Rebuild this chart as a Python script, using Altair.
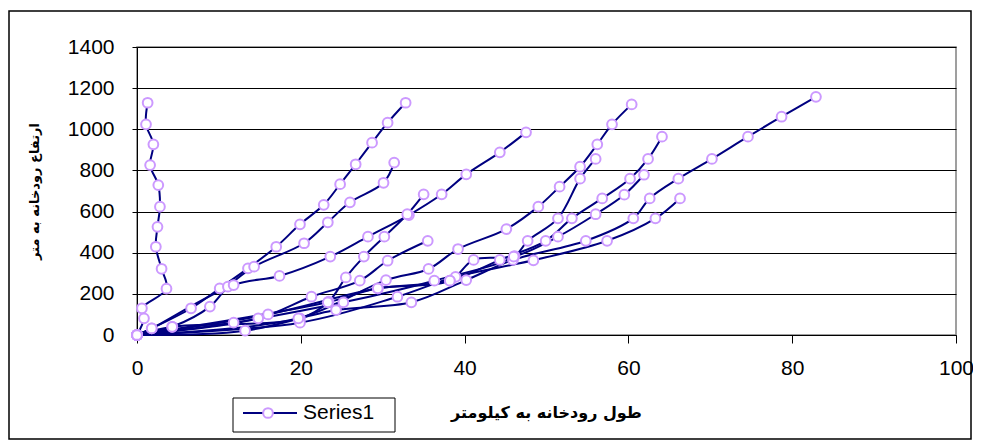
import altair as alt
import pandas as pd

# River longitudinal profiles: distance (km) and elevation (m)
km_1 = [0, 0.85, 0.6, 3.6, 3.0, 2.3, 2.5, 2.8, 2.6, 1.6, 2.0, 1.1, 1.3]
m_1 = [0, 81, 130, 225, 322, 429, 526, 624, 729, 826, 927, 1024, 1129]
km_2 = [0, 1.8, 6.6, 10.1, 13.55, 17.0, 19.9, 22.8, 24.8, 26.7, 28.7, 30.6, 32.8]
m_2 = [0, 32, 130, 227, 324, 429, 538, 633, 733, 830, 935, 1032, 1129]
km_3 = [0, 4.3, 8.9, 11.1, 14.3, 20.4, 23.3, 26.0, 30.1, 31.4]
m_3 = [0, 40, 138, 235, 332, 446, 548, 645, 740, 838]
km_4 = [0, 1.8, 11.8, 17.4, 23.6, 28.2, 33.2, 37.2, 40.2, 44.3, 47.5]
m_4 = [0, 32, 243, 287, 381, 478, 583, 684, 781, 888, 985]
km_5 = [0, 4.3, 19.9, 23.4, 25.5, 27.7, 30.2, 33.0, 35.0]
m_5 = [0, 40, 81, 162, 280, 381, 478, 587, 684]
km_6 = [0, 14.8, 21.3, 27.2, 30.6, 35.5]
m_6 = [0, 81, 186, 264, 361, 458]
km_7 = [0, 13.2, 24.3, 33.5, 40.2, 45.9, 54.8, 60.6, 62.6, 66.1, 70.2, 74.6, 78.7, 82.9]
m_7 = [0, 21, 121, 159, 267, 365, 458, 567, 664, 760, 856, 964, 1061, 1158]
km_8 = [0, 19.9, 31.8, 38.9, 48.4, 57.4, 63.3, 66.3]
m_8 = [0, 60, 186, 283, 363, 458, 567, 664]
km_9 = [0, 19.7, 30.4, 35.6, 39.2, 45.1, 49.0, 51.6, 54.1, 56.2, 58.0, 60.4]
m_9 = [0, 81, 267, 321, 418, 515, 624, 721, 818, 927, 1024, 1121]
km_10 = [0, 23.3, 29.4, 38.2, 44.3, 49.9, 53.1, 56.8, 60.2, 62.4, 64.1]
m_10 = [0, 159, 227, 264, 365, 458, 567, 664, 760, 856, 964]
km_11 = [0, 11.8, 25.2, 36.3, 46.1, 47.7, 51.4, 54.1, 56.0]
m_11 = [0, 60, 159, 264, 384, 458, 567, 760, 856]
km_12 = [0, 16.0, 29.4, 38.2, 41.1, 46.0, 51.4, 56.0, 59.5, 61.9]
m_12 = [0, 100, 227, 264, 365, 381, 478, 587, 682, 779]

series_name = "Series1"
x_ticks = [0, 20, 40, 60, 80, 100]
y_ticks = [0, 200, 400, 600, 800, 1000, 1200, 1400]
x_title = "طول رودخانه به کیلومتر"
y_title = "ارتفاع رودخانه به متر"

profiles = [(km_1, m_1), (km_2, m_2), (km_3, m_3), (km_4, m_4), (km_5, m_5), (km_6, m_6),
            (km_7, m_7), (km_8, m_8), (km_9, m_9), (km_10, m_10), (km_11, m_11), (km_12, m_12)]
rows = []
for p, (xs, ys) in enumerate(profiles, start=1):
    for i, (a, b) in enumerate(zip(xs, ys)):
        rows.append({"profile": p, "seq": i, "km": a, "m": b, "series": series_name})
df = pd.DataFrame(rows)

NAVY = "#000080"
LILAC = "#cc99ff"
LABEL_FONT = "Liberation Sans"
TITLE_FONT = "DejaVu Sans"
PT_SIZE = 95

x_enc = alt.X("km:Q", scale=alt.Scale(domain=[0, 100], nice=False, zero=True),
              axis=alt.Axis(values=x_ticks, format="d", title=x_title, grid=False, tickSize=8,
                            labelFontSize=21, labelFont=LABEL_FONT, labelColor="black",
                            labelPadding=14, domainColor="black", tickColor="black",
                            labelFlush=False,
                            titleFont=TITLE_FONT, titleFontSize=16, titleFontWeight="bold",
                            titleColor="black", titleX=409, titleY=77, titleBaseline="middle",
                            titleAnchor="middle"))
y_enc = alt.Y("m:Q", scale=alt.Scale(domain=[0, 1400], nice=False),
              axis=alt.Axis(values=y_ticks, format="d", title=y_title, grid=True, gridColor="black",
                            gridWidth=1, tickSize=5, labelFontSize=21, labelFont=LABEL_FONT,
                            labelColor="black", labelPadding=18, domainColor="black",
                            tickColor="black", labelFlush=False,
                            titleFont=TITLE_FONT, titleFontSize=13, titleFontWeight="bold",
                            titleColor="black", titleX=-103, titleY=144, titleAngle=270,
                            titleBaseline="middle", titleAnchor="middle"))

base = alt.Chart(df)
lines = base.mark_line(color=NAVY, strokeWidth=2, interpolate="catmull-rom").encode(
    x=x_enc, y=y_enc, detail="profile:N", order="seq:Q")
points = base.mark_circle(fill="white", stroke=LILAC, strokeWidth=2, size=PT_SIZE, opacity=1).encode(
    x="km:Q", y="m:Q")

one = pd.DataFrame({"label": [series_name]})
frame = alt.Chart(one).mark_rect(fillOpacity=0, stroke="black", strokeWidth=1.5).encode(
    x=alt.value(-128), x2=alt.value(834), y=alt.value(-36), y2=alt.value(392))
leg_box = alt.Chart(one).mark_rect(fill="white", stroke="black", strokeWidth=1).encode(
    x=alt.value(96), x2=alt.value(258), y=alt.value(351), y2=alt.value(385))
leg_line = alt.Chart(one).mark_rule(color=NAVY, strokeWidth=2).encode(
    x=alt.value(106), x2=alt.value(160), y=alt.value(366))
leg_pt = alt.Chart(one).mark_circle(fill="white", stroke=LILAC, strokeWidth=2, size=PT_SIZE, opacity=1).encode(
    x=alt.value(131), y=alt.value(366))
leg_text = alt.Chart(one).mark_text(align="left", baseline="middle", fontSize=21,
                                    font=LABEL_FONT, color="black").encode(
    x=alt.value(166), y=alt.value(366), text="label:N")

chart = alt.layer(frame, lines, points, leg_box, leg_line, leg_pt, leg_text).properties(
    width=819, height=288, autosize=alt.AutoSizeParams(type="none"),
    padding={"left": 129, "top": 39, "right": 17, "bottom": 105},
    background="white",
).configure_view(stroke="#808080", strokeWidth=1.5, fill="white")

chart.save("out.html", embed_options={"renderer": "svg", "actions": False})
